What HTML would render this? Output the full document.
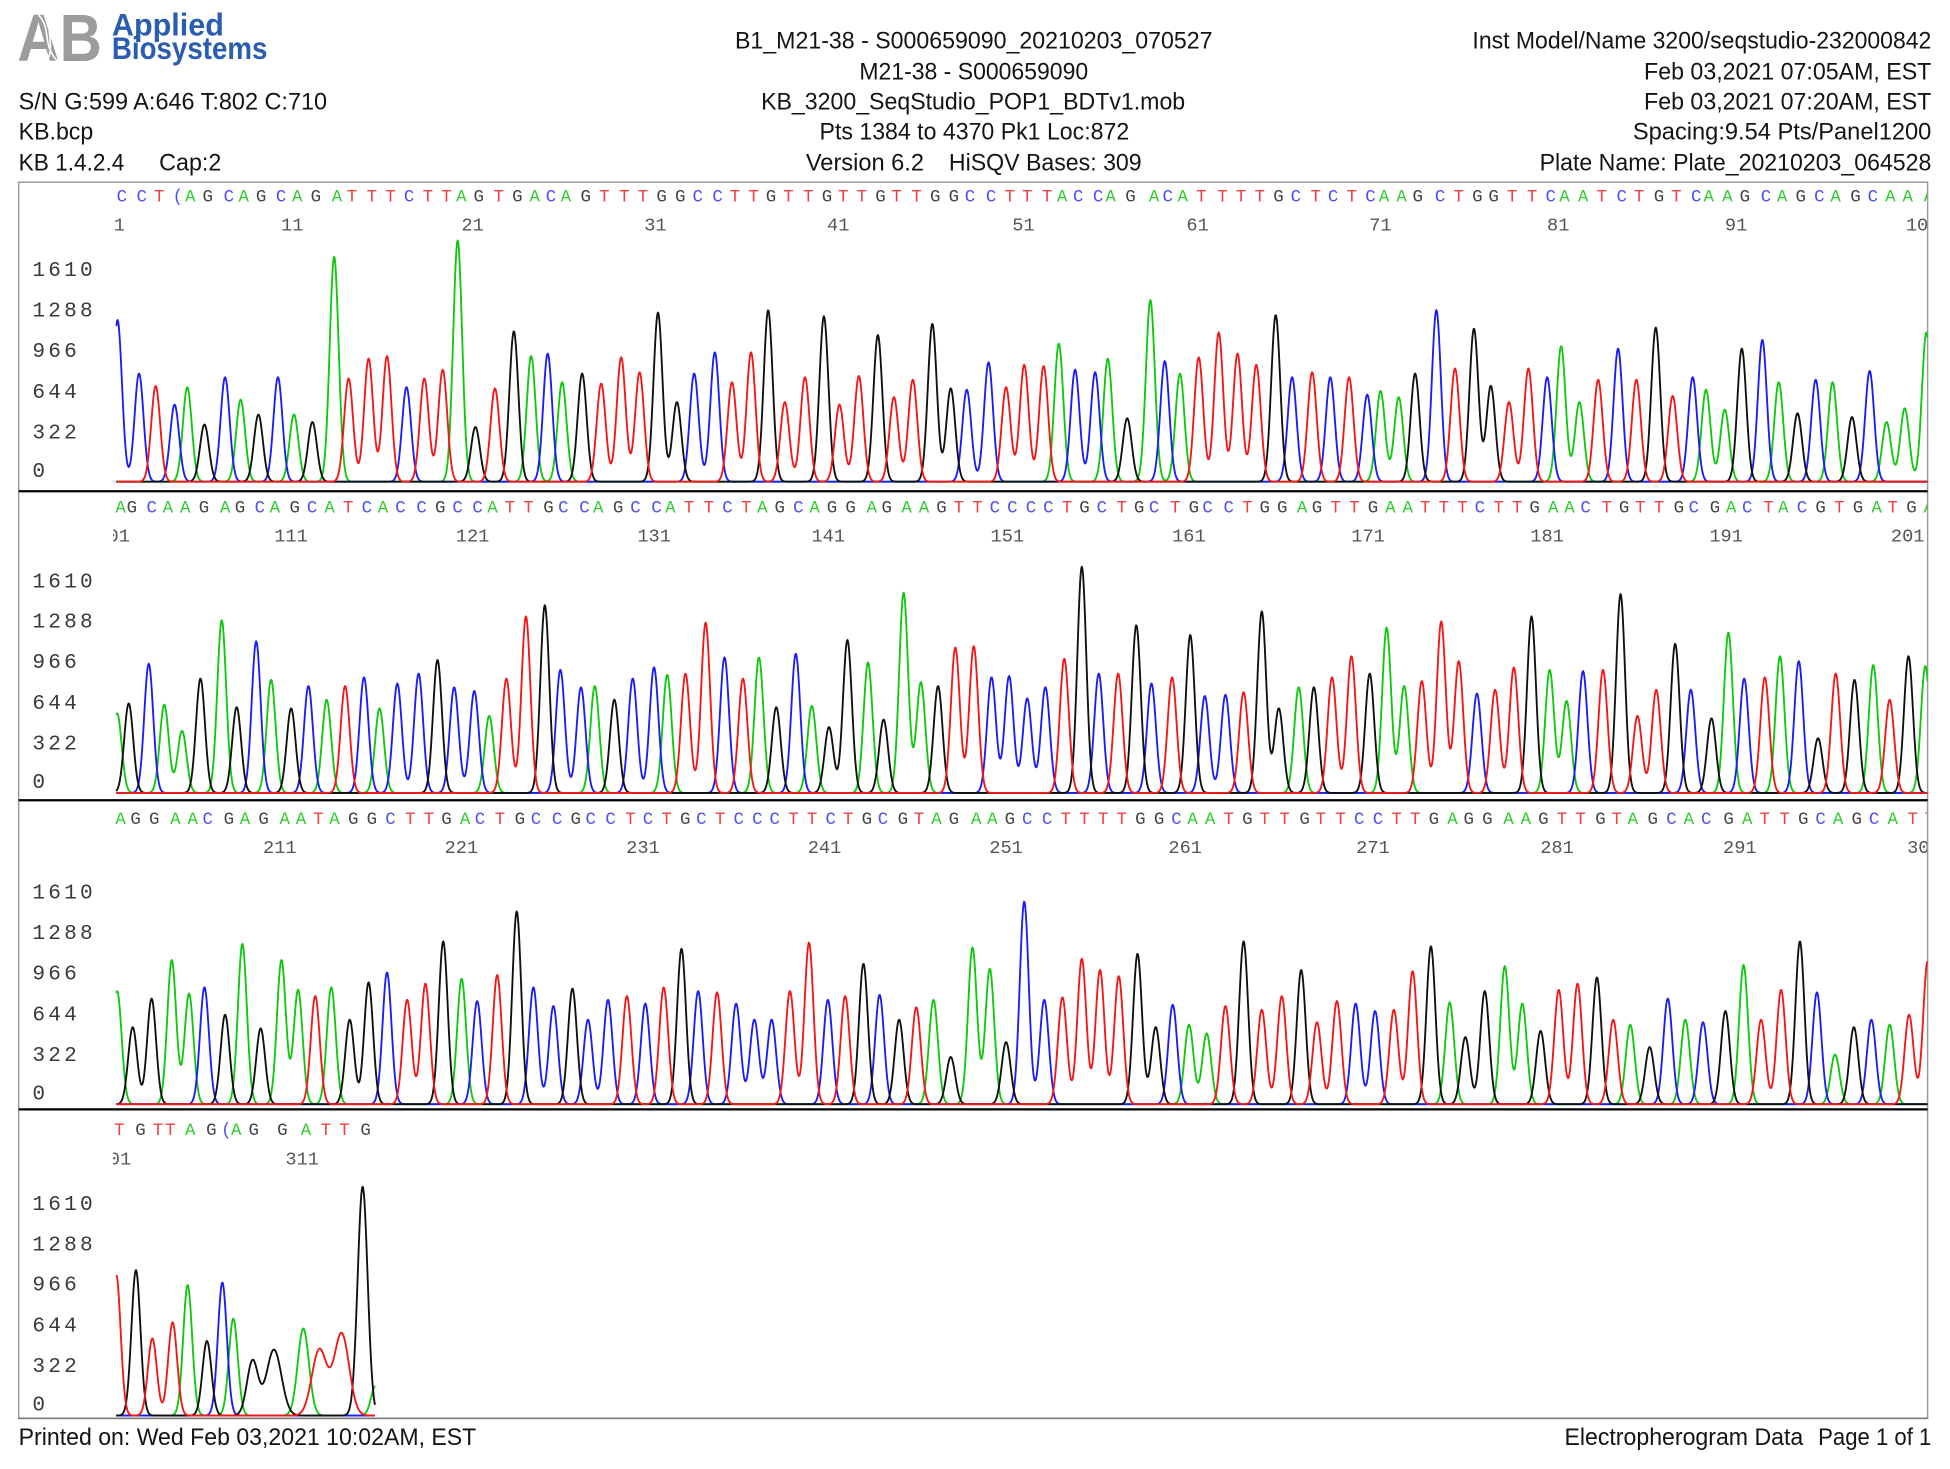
<!DOCTYPE html>
<html><head><meta charset="utf-8"><style>
html,body{margin:0;padding:0;background:#fff;}
svg{display:block}
.h{font-family:"Liberation Sans",Arial,sans-serif;font-size:19px;fill:#141414}
.lab{font-family:"Liberation Mono",monospace;font-size:17px;fill:#3a3a3a;letter-spacing:2.6px}
.num{font-family:"Liberation Mono",monospace;font-size:15px;fill:#555;text-anchor:middle}
.b{font-family:"Liberation Mono",monospace;font-size:14px;text-anchor:middle}
.bA{fill:#2ecc2e}.bC{fill:#5050f0}.bG{fill:#444}.bT{fill:#f04040}
</style></head><body>
<svg id="s" width="1950" height="1469" viewBox="0 0 1568 1181.2" preserveAspectRatio="none" xmlns="http://www.w3.org/2000/svg">
<defs>
<clipPath id="ct"><rect x="93" y="140" width="1457" height="1005"/></clipPath>
<clipPath id="cl"><rect x="91" y="140" width="1458.5" height="1005"/></clipPath>
</defs>
<rect x="0" y="0" width="1568" height="1181.2" fill="#fff"/>

<!-- Logo -->
<text x="14" y="49" font-family="Liberation Sans, Arial, sans-serif" font-weight="bold" font-size="54" fill="#9c9c9c" textLength="68" lengthAdjust="spacingAndGlyphs">AB</text>
<path d="M31 12 C 42 24, 33 36, 47 50" stroke="#fff" stroke-width="1.3" fill="none"/>
<path d="M44 12 C 34 24, 46 37, 37 50" stroke="#fff" stroke-width="1.3" fill="none"/>
<text x="90" y="28.5" font-family="Liberation Sans, Arial, sans-serif" font-weight="bold" font-size="25" fill="#2a5db0" textLength="90" lengthAdjust="spacingAndGlyphs">Applied</text>
<text x="90" y="47.5" font-family="Liberation Sans, Arial, sans-serif" font-weight="bold" font-size="25" fill="#2a5db0" textLength="125" lengthAdjust="spacingAndGlyphs">Biosystems</text>

<!-- Header left -->
<text class="h" x="15" y="88" textLength="248" lengthAdjust="spacingAndGlyphs">S/N G:599 A:646 T:802 C:710</text>
<text class="h" x="15" y="112" textLength="60" lengthAdjust="spacingAndGlyphs">KB.bcp</text>
<text class="h" x="15" y="137" textLength="85" lengthAdjust="spacingAndGlyphs">KB 1.4.2.4</text>
<text class="h" x="128" y="137" textLength="50" lengthAdjust="spacingAndGlyphs">Cap:2</text>
<!-- Header center -->
<text class="h" x="591" y="39" textLength="384" lengthAdjust="spacingAndGlyphs">B1_M21-38 - S000659090_20210203_070527</text>
<text class="h" x="691" y="64" textLength="184" lengthAdjust="spacingAndGlyphs">M21-38 - S000659090</text>
<text class="h" x="612" y="88" textLength="341" lengthAdjust="spacingAndGlyphs">KB_3200_SeqStudio_POP1_BDTv1.mob</text>
<text class="h" x="659" y="112" textLength="249" lengthAdjust="spacingAndGlyphs">Pts 1384 to 4370 Pk1 Loc:872</text>
<text class="h" x="648" y="137" textLength="95" lengthAdjust="spacingAndGlyphs">Version 6.2</text>
<text class="h" x="763" y="137" textLength="155" lengthAdjust="spacingAndGlyphs">HiSQV Bases: 309</text>
<!-- Header right -->
<text class="h" x="1184" y="39" textLength="369" lengthAdjust="spacingAndGlyphs">Inst Model/Name 3200/seqstudio-232000842</text>
<text class="h" x="1322" y="64" textLength="231" lengthAdjust="spacingAndGlyphs">Feb 03,2021 07:05AM, EST</text>
<text class="h" x="1322" y="88" textLength="231" lengthAdjust="spacingAndGlyphs">Feb 03,2021 07:20AM, EST</text>
<text class="h" x="1313" y="112" textLength="240" lengthAdjust="spacingAndGlyphs">Spacing:9.54  Pts/Panel1200</text>
<text class="h" x="1238" y="137" textLength="315" lengthAdjust="spacingAndGlyphs">Plate Name: Plate_20210203_064528</text>

<!-- Box -->
<rect x="15" y="146.5" width="1535" height="994" fill="none" stroke="#9a9a9a" stroke-width="1.2"/>
<line x1="15" y1="395" x2="1550" y2="395" stroke="#000" stroke-width="1.8"/>
<line x1="15" y1="643.5" x2="1550" y2="643.5" stroke="#000" stroke-width="1.8"/>
<line x1="15" y1="892" x2="1550" y2="892" stroke="#000" stroke-width="1.8"/>
<line x1="15" y1="1140.5" x2="1550" y2="1140.5" stroke="#777" stroke-width="1.2"/>

<!-- Y labels -->
<g transform="translate(0,387.3)">
<text class="lab" x="26" y="-165.4">1610</text><text class="lab" x="26" y="-132.9">1288</text><text class="lab" x="26" y="-100.4">966</text><text class="lab" x="26" y="-67.4">644</text><text class="lab" x="26" y="-34.9">322</text><text class="lab" x="26" y="-3.9">0</text>
</g>
<g transform="translate(0,637.6)">
<text class="lab" x="26" y="-165.4">1610</text><text class="lab" x="26" y="-132.9">1288</text><text class="lab" x="26" y="-100.4">966</text><text class="lab" x="26" y="-67.4">644</text><text class="lab" x="26" y="-34.9">322</text><text class="lab" x="26" y="-3.9">0</text>
</g>
<g transform="translate(0,887.9)">
<text class="lab" x="26" y="-165.4">1610</text><text class="lab" x="26" y="-132.9">1288</text><text class="lab" x="26" y="-100.4">966</text><text class="lab" x="26" y="-67.4">644</text><text class="lab" x="26" y="-34.9">322</text><text class="lab" x="26" y="-3.9">0</text>
</g>
<g transform="translate(0,1138.2)">
<text class="lab" x="26" y="-165.4">1610</text><text class="lab" x="26" y="-132.9">1288</text><text class="lab" x="26" y="-100.4">966</text><text class="lab" x="26" y="-67.4">644</text><text class="lab" x="26" y="-34.9">322</text><text class="lab" x="26" y="-3.9">0</text>
</g>

<!-- Bases and numbers -->
<g clip-path="url(#cl)">
<g transform="translate(0,387.3)">
<text class="b bA" y="-225.4" x="153 196 239 271 371 430 455 854 893 928 951 1113 1127 1258 1273 1374 1389 1433 1476 1520 1534 1551">AAAAAAAAAAAAAAAAAAAAAA</text>
<text class="b bC" y="-225.4" x="98 114 143 184 226 329 443 561 577 780 797 867 883 939 1042 1072 1102 1158 1247 1304 1364 1420 1463 1506">CC(CCCCCCCCCCCCCCCCCCCCC</text>
<text class="b bG" y="-225.4" x="167 210 254 385 416 471 532 547 620 665 708 752 767 909 1028 1140 1188 1201 1334 1403 1448 1492">GGGGGGGGGGGGGGGGGGGGGG</text>
<text class="b bT" y="-225.4" x="128 283 299 314 344 359 401 486 502 517 591 606 634 650 678 693 721 737 812 826 842 966 983 998 1013 1058 1087 1173 1216 1232 1288 1318 1348">TTTTTTTTTTTTTTTTTTTTTTTTTTTTTTTTT</text>
<text class="num" y="-202"><tspan x="96">1</tspan><tspan x="235">11</tspan><tspan x="380">21</tspan><tspan x="527">31</tspan><tspan x="674">41</tspan><tspan x="823">51</tspan><tspan x="963">61</tspan><tspan x="1110">71</tspan><tspan x="1253">81</tspan><tspan x="1396">91</tspan><tspan x="1546">101</tspan></text>
</g>
<g transform="translate(0,637.6)">
<text class="b bA" y="-225.4" x="97 135 149 181 221 265 308 396 481 539 613 655 701 729 743 1047 1118 1132 1249 1262 1392 1434 1509 1551">AAAAAAAAAAAAAAAAAAAAAAAA</text>
<text class="b bC" y="-225.4" x="122 209 251 295 322 339 368 384 453 470 511 528 585 642 800 814 829 843 886 928 971 988 1190 1275 1362 1405 1449">CCCCCCCCCCCCCCCCCCCCCCCCCCC</text>
<text class="b bG" y="-225.4" x="106 164 193 237 354 441 497 627 669 684 713 757 872 916 960 1017 1031 1059 1104 1234 1306 1350 1379 1464 1494 1537">GGGGGGGGGGGGGGGGGGGGGGGGGG</text>
<text class="b bT" y="-225.4" x="280 410 425 554 570 600 771 786 858 902 945 1003 1074 1089 1146 1161 1176 1205 1220 1292 1319 1334 1422 1479 1522">TTTTTTTTTTTTTTTTTTTTTTTTT</text>
<text class="num" y="-202"><tspan x="91">101</tspan><tspan x="234">111</tspan><tspan x="380">121</tspan><tspan x="526">131</tspan><tspan x="666">141</tspan><tspan x="810">151</tspan><tspan x="956">161</tspan><tspan x="1100">171</tspan><tspan x="1244">181</tspan><tspan x="1388">191</tspan><tspan x="1534">201</tspan></text>
</g>
<g transform="translate(0,887.9)">
<text class="b bA" y="-225.4" x="97 141 155 197 229 242 269 374 753 785 798 959 973 1168 1213 1227 1313 1358 1405 1478 1522">AAAAAAAAAAAAAAAAAAAAA</text>
<text class="b bC" y="-225.4" x="167 314 386 431 448 475 491 521 564 594 609 623 668 710 826 842 946 1093 1108 1344 1372 1464 1507">CCCCCCCCCCCCCCCCCCCCCCC</text>
<text class="b bG" y="-225.4" x="109 124 184 212 284 299 359 418 463 551 697 726 767 812 917 932 1003 1049 1153 1181 1196 1241 1287 1329 1390 1450 1493">GGGGGGGGGGGGGGGGGGGGGGGGGGG</text>
<text class="b bT" y="-225.4" x="256 330 345 402 507 536 579 638 653 682 739 857 872 887 902 988 1017 1033 1062 1078 1123 1138 1256 1271 1300 1419 1435 1538 1552">TTTTTTTTTTTTTTTTTTTTTTTTTTTTT</text>
<text class="num" y="-202"><tspan x="225">211</tspan><tspan x="371">221</tspan><tspan x="517">231</tspan><tspan x="663">241</tspan><tspan x="809">251</tspan><tspan x="953">261</tspan><tspan x="1104">271</tspan><tspan x="1252">281</tspan><tspan x="1399">291</tspan><tspan x="1547">301</tspan></text>
</g>
<g transform="translate(0,1138.2)">
<text class="b bA" y="-225.4" x="153 190 246">AAA</text>
<text class="b bC" y="-225.4" x="182">(</text>
<text class="b bG" y="-225.4" x="113 170 204 227 294">GGGGG</text>
<text class="b bT" y="-225.4" x="96 127 137 262 277">TTTTT</text>
<text class="num" y="-202"><tspan x="92">301</tspan><tspan x="243">311</tspan></text>
</g>
</g>

<!-- Traces -->
<g id="tr" clip-path="url(#ct)"></g>

<!-- Footer -->
<text class="h" x="15" y="1162" textLength="368" lengthAdjust="spacingAndGlyphs">Printed on: Wed Feb 03,2021 10:02AM, EST</text>
<text class="h" x="1258" y="1162" textLength="192" lengthAdjust="spacingAndGlyphs">Electropherogram Data</text>
<text class="h" x="1462" y="1162" textLength="91" lengthAdjust="spacingAndGlyphs">Page 1 of 1</text>
</svg>
<script>
(function(){
var ns="http://www.w3.org/2000/svg";
var D=[
[387.3,1550,"94.5,130,C 111.8,87,C 125.2,77,T 140.4,62,C 150.6,76,A 164.4,46,G 181,84,C 193.5,66,A 207.8,54,G 223.5,84,C 236.4,54,A 251.2,48,G 268.7,181,A 280.3,83,T 296.4,99,T 311.2,101,T 326.9,76,C 341.2,83,T 356,90,T 368,194,A 382.3,44,G 398,75,T 413.2,121,G 427.1,101,A 440.4,103,C 452,80,A 468.1,87,G 483.4,79,T 499.5,100,T 514.3,88,T 529.1,136,G 544.3,64,G 558.2,87,C 574.8,104,C 588.6,80,T 603.9,104,T 617.7,138,G 631.1,64,T 647.3,84,T 662.5,133,G 675,62,T 690.6,85,T 705.9,118,G 718.8,68,T 734,82,T 749.7,127,G 764.5,75,G 777.4,74,C 794.9,96,C 809,76,T 823.6,94,T 839.2,93,T 851.4,111,A 864.5,90,C 880.6,88,C 890.8,99,A 906.4,51,G 925,146,A 936.6,97,C 948.8,87,A 963.9,100,T 980,120,T 995.1,103,T 1010.2,94,T 1025.8,134,G 1039,84,C 1055.1,88,T 1069.7,84,C 1084.8,84,T 1099.4,70,C 1110.1,73,A 1124.7,68,A 1137.9,87,G 1155,138,C 1170,91,T 1185.2,123,G 1198.8,77,G 1213.4,64,T 1229,91,T 1244.1,84,C 1255.3,109,A 1270,64,A 1285.1,82,T 1301.1,107,C 1315.8,82,T 1331.4,124,G 1345,69,T 1361.1,84,C 1371.8,74,A 1386.9,58,A 1400.6,107,G 1417.1,114,C 1430.3,80,A 1445.4,55,G 1460,82,C 1473.6,80,A 1489.2,52,G 1503.4,89,C 1517,48,A 1531.6,59,A 1549,120,A"],
[637.6,1550,"94.2,64,A 103.5,72,G 119.6,104,C 132.1,71,A 146.4,50,A 161.2,92,G 178.3,139,A 190.3,69,G 206,122,C 218,91,A 234.1,68,G 248,86,C 262.7,75,A 277.5,86,T 292.7,93,C 305.2,68,A 319.5,88,C 336.6,96,C 351.8,107,G 365.2,85,C 381.4,82,C 393.4,62,A 407.2,92,T 422.9,142,T 438.1,151,G 450.6,99,C 467.2,85,C 478.3,86,A 494,75,G 508.8,92,C 525.9,101,C 536.5,95,A 551.2,96,T 567.4,137,T 582.6,109,C 597.4,92,T 610.3,109,A 624.2,69,G 639.9,112,C 652.8,70,A 666.6,53,G 681.4,123,G 698,105,A 710.5,59,G 726.6,161,A 740.5,89,A 754.3,86,G 768.2,117,T 783,118,T 797.3,93,C 811.4,94,C 826,76,C 840.6,85,C 855.8,108,T 869.9,182,G 883.5,96,C 899.1,96,T 913.7,135,G 925.9,88,C 942.5,93,T 957.1,127,G 968.8,78,C 985.4,79,C 1000,81,T 1014.6,146,G 1028.3,68,G 1044.3,85,A 1056.5,85,G 1071.1,93,T 1086.7,110,T 1101.4,96,G 1115,133,A 1129.1,86,A 1143.3,90,T 1158.9,138,T 1173,106,T 1187.6,80,C 1202.2,83,T 1217.3,101,T 1231.5,142,G 1246.1,99,A 1259.7,74,A 1272.9,98,C 1289,99,T 1303.1,160,G 1316.7,62,T 1331.8,83,T 1347,120,G 1359.6,83,C 1376.2,60,G 1389.8,129,A 1402.5,92,C 1419.1,93,T 1431.3,110,A 1446.4,106,C 1461.9,44,G 1476.1,96,T 1491.2,91,G 1506.3,103,A 1519.5,75,T 1534.6,110,G 1548.2,102,A"],
[887.9,1550,"94.2,91,A 106.7,62,G 121.9,85,G 138.1,116,A 152,89,A 164.4,94,C 181,72,G 194.9,129,A 209.6,61,G 226.3,116,A 239.7,92,A 253.5,87,T 266.4,94,A 281.2,68,G 296.4,98,G 311.2,106,C 327.4,84,T 342.1,97,T 356.4,131,G 371.2,101,A 383.7,83,C 399.8,104,T 415.5,155,G 428.9,94,C 445,79,C 460.3,93,G 472.8,68,C 488.9,84,C 504.1,87,T 518.9,81,C 533.7,94,T 548,125,G 561.4,91,C 576.6,90,T 591.9,81,C 606.6,68,C 620.5,68,C 635.2,91,T 650.5,130,T 665.7,84,C 679.6,87,T 694.3,113,G 707.3,88,C 723,68,G 736.8,78,T 750.6,84,A 764.5,38,G 782,126,A 795.9,109,A 809,50,G 823.6,163,C 839.7,84,C 854.3,86,T 869.9,117,T 884.5,108,T 899.6,103,T 914.7,121,G 929.3,62,G 943,80,C 956.1,64,A 970.3,57,A 985.4,79,T 1000,131,G 1014.6,76,T 1030.7,87,T 1046.3,108,G 1059,66,T 1075,83,T 1090.1,81,C 1105.7,75,C 1120.8,76,T 1135.9,107,T 1150.6,127,G 1165.7,82,A 1178.3,54,G 1193.9,91,G 1210,111,A 1224.1,81,A 1238.8,59,G 1253.4,92,T 1268.5,97,T 1284.1,102,G 1297.2,68,T 1310.9,64,A 1326.5,46,G 1341.1,85,C 1355.2,68,A 1369.4,66,C 1387.4,75,G 1402,112,A 1416.1,68,T 1432.2,92,T 1447.3,131,G 1461,90,C 1475.6,40,A 1490.7,62,G 1504.8,68,C 1519.5,64,A 1535.1,72,T 1550,115,T"],
[1138.2,301.5,"93.5,113,T,3.5 109.3,117,G 122.5,62,T 138.8,75,T 150.9,105,A 166.4,60,G 178.8,107,C 187.6,78,A 203.1,44,G,4.5 220.3,53,G,6 243.9,70,A,4.5 256.8,53,T,6 274.7,66,T,6 291.6,184,G,4 302,24,A"]
];
var col={A:"#10c810",C:"#1c1cf5",G:"#101010",T:"#f21818"};
var g=document.getElementById("tr");
D.forEach(function(p){
  var B=p[0],xe=p[1];
  var pk=p[2].trim().split(/\s+/).map(function(s){var a=s.split(",");return [+a[0],+a[1],a[2],a[3]?+a[3]:3.6];});
  ["A","C","G","T"].forEach(function(b){
    var ps=pk.filter(function(q){return q[2]===b;});
    var pts=[];
    for(var x=93.5;x<=xe+0.001;x+=0.5){
      var v=0;
      for(var i=0;i<ps.length;i++){var dx=x-ps[i][0];if(dx>-30&&dx<30){var s=ps[i][3];v+=ps[i][1]*Math.exp(-dx*dx/(2*s*s));}}
      pts.push(x.toFixed(1)+","+(B-v).toFixed(2));
    }
    var pl=document.createElementNS(ns,"polyline");
    pl.setAttribute("points",pts.join(" "));
    pl.setAttribute("fill","none");
    pl.setAttribute("stroke",col[b]);
    pl.setAttribute("stroke-width","1.5");
    pl.setAttribute("stroke-linejoin","round");
    g.appendChild(pl);
  });
});
})();
</script>
</body></html>
